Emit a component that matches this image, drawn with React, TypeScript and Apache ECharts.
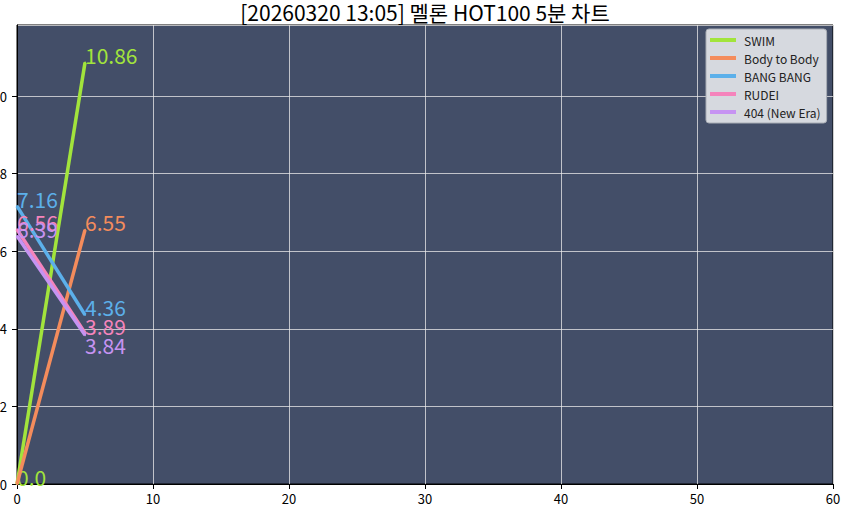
import React, { useEffect, useRef } from "react";
import * as echarts from "echarts";

const seriesNames = ["SWIM", "Body to Body", "BANG BANG", "RUDEI", "404 (New Era)"];
const seriesColors = ["#a2e43c", "#f48c5c", "#5cb0ea", "#f584bc", "#c693f2"];
const xPoints = [0, 5];
const swimValues = [0.0, 10.86];
const bodyValues = [0.0, 6.55];
const bangValues = [7.16, 4.36];
const rudeiValues = [6.56, 3.89];
const newEraValues = [6.39, 3.84];
const startLabelShown = [true, false, true, true, true];
const endLabelBelow = [false, false, false, false, true];
const titleText = "[20260320 13:05] 멜론 HOT100 5분 차트";

const FONT = "'Noto Sans CJK KR', 'Noto Sans', sans-serif";

export default function App() {
  const ref = useRef<HTMLDivElement>(null);
  useEffect(() => {
    document.body.style.margin = "0";
    const chart = echarts.init(ref.current!, null, { renderer: "svg" });
    const all = [swimValues, bodyValues, bangValues, rudeiValues, newEraValues];
    const series = all.map((vals, si) => ({
      name: seriesNames[si],
      type: "line",
      data: vals.map((v, i) => {
        const below = i === 1 && endLabelBelow[si];
        return {
          value: [xPoints[i], v],
          label: below
            ? { show: true, verticalAlign: "top", position: [1, 0] }
            : { show: i === 0 ? startLabelShown[si] : true },
        };
      }),
      symbol: "circle",
      symbolSize: 2,
      showSymbol: true,
      itemStyle: { color: seriesColors[si] },
      lineStyle: { width: 3.5, color: seriesColors[si] },
      color: seriesColors[si],
      label: {
        position: [1, 4],
        align: "left",
        verticalAlign: "bottom",
        color: seriesColors[si],
        fontSize: 21,
        fontFamily: FONT,
        formatter: (p: any) => {
          const v = p.value[1];
          return v === 0 ? "0.0" : String(v);
        },
      },
      labelLayout: { hideOverlap: false },
      emphasis: { disabled: true },
      z: 2 + si,
    }));
    chart.setOption({
      animation: false,
      backgroundColor: "#ffffff",
      title: {
        text: titleText,
        left: "center",
        top: 1,
        padding: [0, 5, 0, 5],
        textStyle: { fontSize: 21, fontWeight: "normal", color: "#000", fontFamily: FONT, lineHeight: 22 },
      },
      grid: {
        left: 17,
        right: 17,
        top: 25,
        bottom: 25,
        containLabel: false,
        outerBoundsMode: "none",
        show: true,
        backgroundColor: "#434e68",
        borderColor: "#000",
        borderWidth: 1,
      },
      legend: {
        orient: "vertical",
        left: 706,
        top: 29,
        padding: [4, 6, 4, 4],
        itemWidth: 26,
        itemHeight: 4,
        itemGap: 4,
        icon: "rect",
        backgroundColor: "#d6d9df",
        borderColor: "#a9adb5",
        borderWidth: 1,
        borderRadius: 3,
        textStyle: { fontSize: 12, color: "#222", fontFamily: FONT, lineHeight: 14, padding: [0, 0, 0, 3] },
        data: seriesNames,
      },
      xAxis: {
        type: "value",
        min: 0,
        max: 60,
        interval: 10,
        axisLine: { show: true, lineStyle: { color: "#000" } },
        axisTick: { show: true, length: 5, lineStyle: { color: "#000" } },
        axisLabel: { fontSize: 13, color: "#000", fontFamily: FONT, margin: 8 },
        splitLine: { show: true, lineStyle: { color: "rgba(235,235,235,0.75)", width: 1 } },
      },
      yAxis: {
        type: "value",
        min: 0,
        max: 11.83,
        interval: 2,
        axisLine: { show: true, lineStyle: { color: "#000" } },
        axisTick: { show: true, length: 5, lineStyle: { color: "#000" } },
        axisLabel: { fontSize: 13, color: "#000", fontFamily: FONT, margin: 10, showMaxLabel: false },
        splitLine: { show: true, lineStyle: { color: "rgba(235,235,235,0.75)", width: 1 } },
      },
      series,
    });
    return () => chart.dispose();
  }, []);
  return <div ref={ref} style={{ width: 850, height: 509 }} />;
}
